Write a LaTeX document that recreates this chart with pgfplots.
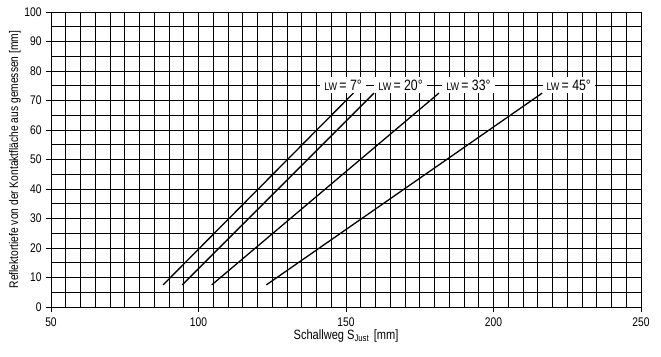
\documentclass[border=0pt]{standalone}
\usepackage{pgfplots}
\pgfplotsset{compat=1.18}
\usepackage{fontspec}
\setmainfont{Liberation Sans}[FakeStretch=0.82]
\begin{document}
\begin{tikzpicture}
\begin{axis}[
  name=ax,
  scale only axis, width=590pt, height=295pt,
  xmin=50, xmax=250, ymin=0, ymax=100,
  xtick={50,100,...,250}, ytick={0,10,...,100},
  minor xtick={55,60,...,245}, minor ytick={5,15,...,95},
  grid=both,
  major grid style={black, line width=0.9pt},
  minor grid style={black, line width=0.9pt},
  axis line style={black, line width=0.9pt},
  tick style={black, line width=0.9pt},
  major tick length=5pt, minor tick length=0pt,
  tick align=outside,
  xtick pos=bottom, ytick pos=left,
  /pgf/number format/assume math mode=true,
  /pgf/number format/set thousands separator={},
  tick label style={font=\fontsize{12.5}{13}\selectfont},
  xticklabel style={yshift=-2pt},
  yticklabel style={xshift=-1pt},
  xlabel={Schallweg S\textsubscript{Just}\,\,[mm]},
  ylabel={Reflektortiefe von der Kontaktfläche aus gemessen [mm]},
  xlabel style={at={(axis description cs:0.5,-0.098)}, anchor=center, font=\fontsize{13.5}{14}\selectfont},
  ylabel style={at={(axis description cs:-0.061,0.5)}, anchor=center, font=\fontsize{12.5}{13}\selectfont},
]
\addplot[black, line width=1.3pt] coordinates {(88,7.5) (152.5,72.5)};
\addplot[black, line width=1.3pt] coordinates {(94.5,7.5) (159.5,72.5)};
\addplot[black, line width=1.3pt] coordinates {(104.5,7.5) (181.5,72.5)};
\addplot[black, line width=1.3pt] coordinates {(123,7.5) (216.5,72.5)};
\node[fill=white, inner xsep=4pt, inner ysep=2.5pt] at (axis cs:149,75.3) {{\fontsize{11}{12}\selectfont LW} {\fontsize{15}{16}\selectfont = 7°}};
\node[fill=white, inner xsep=4pt, inner ysep=2.5pt] at (axis cs:168.5,75.3) {{\fontsize{11}{12}\selectfont LW} {\fontsize{15}{16}\selectfont = 20°}};
\node[fill=white, inner xsep=4pt, inner ysep=2.5pt] at (axis cs:191.5,75.3) {{\fontsize{11}{12}\selectfont LW} {\fontsize{15}{16}\selectfont = 33°}};
\node[fill=white, inner xsep=4pt, inner ysep=2.5pt] at (axis cs:225.5,75.3) {{\fontsize{11}{12}\selectfont LW} {\fontsize{15}{16}\selectfont = 45°}};
\end{axis}
\pgfresetboundingbox
\path (ax.south west) ++(-51pt,-49pt) coordinate (bl);
\path (ax.north east) ++(20pt,12pt) coordinate (tr);
\path[use as bounding box] (bl) rectangle (tr);
\end{tikzpicture}
\end{document}
